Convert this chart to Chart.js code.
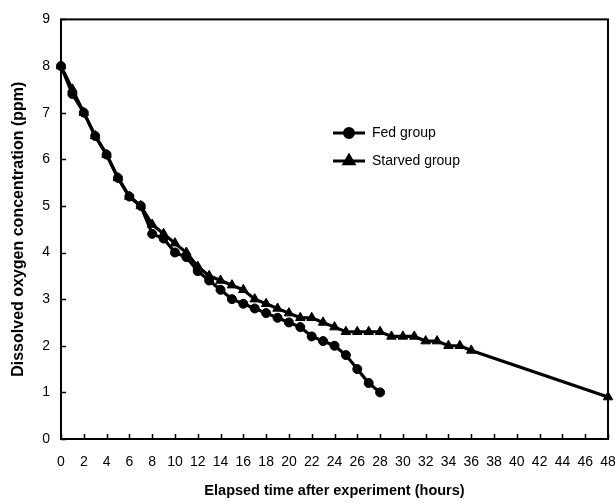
<!DOCTYPE html>
<html>
<head>
<meta charset="utf-8">
<script src="https://cdn.jsdelivr.net/npm/chart.js@4/dist/chart.umd.min.js"></script>
<style>
  html, body { margin: 0; padding: 0; background: #fff; }
  #wrap { width: 616px; height: 504px; }
</style>
</head>
<body>
<div id="wrap"><canvas id="oxygenChart" width="616" height="504"></canvas></div>
<script>
// hours after start of experiment
const fedHours = [0, 1, 2, 3, 4, 5, 6, 7, 8, 9, 10, 11, 12, 13, 14, 15, 16, 17, 18, 19, 20, 21, 22, 23, 24, 25, 26, 27, 28];
const fedOxygen = [8.0, 7.4, 7.0, 6.5, 6.1, 5.6, 5.2, 5.0, 4.4, 4.3, 4.0, 3.9, 3.6, 3.4, 3.2, 3.0, 2.9, 2.8, 2.7, 2.6, 2.5, 2.4, 2.2, 2.1, 2.0, 1.8, 1.5, 1.2, 1.0];

const starvedHours = [0, 1, 2, 3, 4, 5, 6, 7, 8, 9, 10, 11, 12, 13, 14, 15, 16, 17, 18, 19, 20, 21, 22, 23, 24, 25, 26, 27, 28, 29, 30, 31, 32, 33, 34, 35, 36, 48];
const starvedOxygen = [8.0, 7.5, 7.0, 6.5, 6.1, 5.6, 5.2, 5.0, 4.6, 4.4, 4.2, 4.0, 3.7, 3.5, 3.4, 3.3, 3.2, 3.0, 2.9, 2.8, 2.7, 2.6, 2.6, 2.5, 2.4, 2.3, 2.3, 2.3, 2.3, 2.2, 2.2, 2.2, 2.1, 2.1, 2.0, 2.0, 1.9, 0.9];

const xTicks = [0, 2, 4, 6, 8, 10, 12, 14, 16, 18, 20, 22, 24, 26, 28, 30, 32, 34, 36, 38, 40, 42, 44, 46, 48];
const yTicks = [0, 1, 2, 3, 4, 5, 6, 7, 8, 9];

const FONT = "'Liberation Sans', Arial, sans-serif";

function toPoints(xs, ys) {
    return xs.map((x, i) => ({ x: x, y: ys[i] }));
}

// frame box, inward ticks and the in-plot legend
const framePlugin = {
    id: 'frame',
    afterDatasetsDraw(chart) {
        const ctx = chart.ctx;
        const a = chart.chartArea;
        const xs = chart.scales.x;
        const ys = chart.scales.y;
        ctx.save();
        ctx.strokeStyle = '#000';
        ctx.lineWidth = 2;
        ctx.strokeRect(a.left, a.top, a.right - a.left, a.bottom - a.top);
        ctx.lineWidth = 1.5;
        ctx.beginPath();
        xTicks.forEach(v => {
            const px = Math.round(xs.getPixelForValue(v)) + 0.5;
            ctx.moveTo(px, a.bottom);
            ctx.lineTo(px, a.bottom - 5);
        });
        yTicks.forEach(v => {
            const py = Math.round(ys.getPixelForValue(v)) + 0.5;
            ctx.moveTo(a.left, py);
            ctx.lineTo(a.left + 5, py);
        });
        ctx.stroke();

        // legend
        const items = [
            { label: 'Fed group', style: 'circle', y: 133 },
            { label: 'Starved group', style: 'triangle', y: 161 }
        ];
        items.forEach(it => {
            ctx.lineWidth = 3;
            ctx.beginPath();
            ctx.moveTo(333, it.y);
            ctx.lineTo(365, it.y);
            ctx.stroke();
            ctx.fillStyle = '#000';
            Chart.helpers.drawPoint(ctx, { pointStyle: it.style, radius: it.style === 'circle' ? 4.5 : 5.5, borderWidth: 1 }, 349, it.y);
            ctx.fillStyle = '#000';
            ctx.font = '14px ' + FONT;
            ctx.textBaseline = 'middle';
            ctx.textAlign = 'left';
            ctx.fillText(it.label, 372, it.y);
        });
        ctx.restore();
    }
};

new Chart(document.getElementById('oxygenChart').getContext('2d'), {
    type: 'scatter',
    data: {
        datasets: [{
            label: 'Starved group',
            data: toPoints(starvedHours, starvedOxygen),
            showLine: true,
            borderColor: '#000',
            backgroundColor: '#000',
            borderWidth: 3.2,
            pointStyle: 'triangle',
            pointRadius: 5.5,
            pointBorderWidth: 1
        }, {
            label: 'Fed group',
            data: toPoints(fedHours, fedOxygen),
            showLine: true,
            borderColor: '#000',
            backgroundColor: '#000',
            borderWidth: 3.2,
            pointStyle: 'circle',
            pointRadius: 4.5,
            pointBorderWidth: 1
        }]
    },
    options: {
        responsive: false,
        animation: false,
        clip: false,
        layout: { padding: { top: 19, right: 0, left: 0, bottom: 0 } },
        plugins: {
            legend: { display: false },
            tooltip: { enabled: false }
        },
        scales: {
            x: {
                type: 'linear',
                min: 0,
                max: 48,
                afterBuildTicks: s => { s.ticks = xTicks.map(v => ({ value: v })); },
                afterFit: s => { s.height = 65; s.paddingRight = 8; s.paddingLeft = 0; },
                grid: { display: false, drawTicks: false },
                border: { display: false },
                ticks: { color: '#000', padding: 15, font: { family: FONT, size: 14 }, maxRotation: 0, autoSkip: false },
                title: {
                    display: true,
                    text: 'Elapsed time after experiment (hours)',
                    color: '#000',
                    font: { family: FONT, size: 14.5, weight: 'bold' },
                    padding: { top: 10, bottom: 4 }
                }
            },
            y: {
                type: 'linear',
                min: 0,
                max: 9,
                afterBuildTicks: s => { s.ticks = yTicks.map(v => ({ value: v })); },
                afterFit: s => { s.width = 61; },
                grid: { display: false, drawTicks: false },
                border: { display: false },
                ticks: { color: '#000', padding: 11, font: { family: FONT, size: 14 } },
                title: {
                    display: true,
                    text: 'Dissolved oxygen concentration (ppm)',
                    color: '#000',
                    font: { family: FONT, size: 16, weight: 'bold' },
                    padding: { top: 9, bottom: 4 }
                }
            }
        }
    },
    plugins: [framePlugin]
});
</script>
</body>
</html>
